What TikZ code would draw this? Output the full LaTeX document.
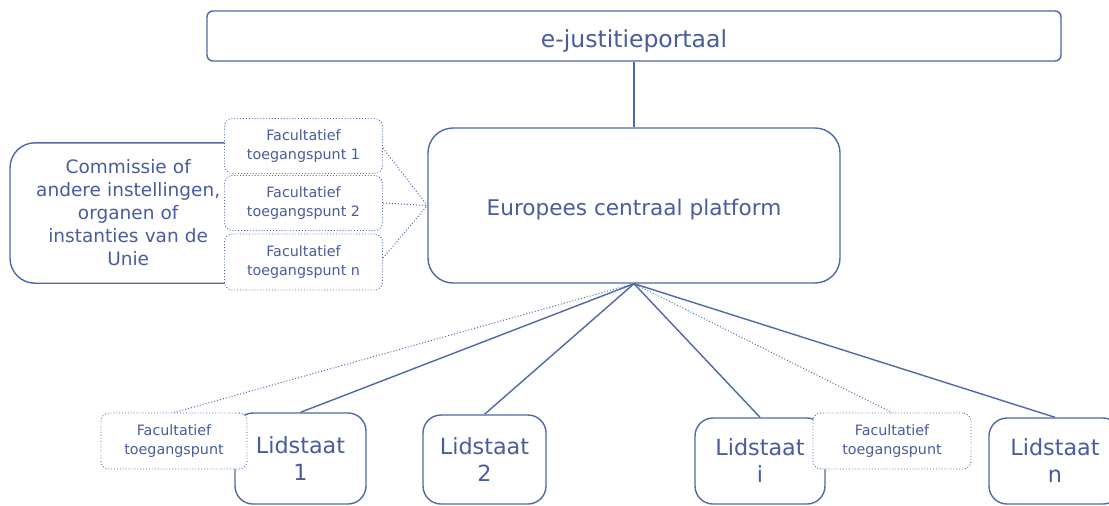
\documentclass[tikz,border=0pt]{standalone}
\usepackage{fontspec}
\setmainfont{DejaVu Sans}
\definecolor{lc}{RGB}{79,104,168}
\definecolor{tc}{RGB}{72,92,158}
\begin{document}
\begin{tikzpicture}[x=1pt,y=-1pt,
  box/.style={draw=lc,line width=1.4pt,fill=white,text=tc,align=center,inner sep=0pt},
  optbox/.style={draw=lc,line width=0.9pt,dotted,fill=white,text=tc,align=center,inner sep=0pt,rounded corners=8pt,
     font=\fontsize{14.3}{19}\selectfont},
  link/.style={draw=lc,line width=1.4pt},
  optlink/.style={draw=lc,line width=1pt,dotted},
  lid/.style={box,rounded corners=18pt,minimum width=#1,font=\fontsize{22.3}{27}\selectfont}
]
\useasboundingbox (0,0) rectangle (1109,506);
\clip (0,0) rectangle (1109,506);

% top portal
\node[box,rounded corners=6pt,minimum width=854pt,minimum height=50pt,font=\fontsize{23.5}{25}\selectfont,
  text height=22.4pt,text depth=0pt]
  (portal) at (634,36) {e-justitieportaal};
% central platform
\node[box,rounded corners=25pt,minimum width=412pt,minimum height=155pt,font=\fontsize{21.6}{25}\selectfont,
  text height=19pt,text depth=0pt]
  (ecp) at (634,205.5) {Europees centraal platform};
\draw[link] (portal.south) -- (ecp.north);
\coordinate (hub) at (ecp.south);

% Commission box (right side hidden behind the access points)
\node[text=tc,align=center,inner sep=0pt,minimum width=236pt,minimum height=140pt,
  font=\fontsize{18.5}{23}\selectfont,anchor=west,text width=230pt]
  (com) at (10,213) {Commissie of\\andere instellingen,\\organen of\\instanties van de\\Unie};
\draw[draw=lc,line width=1.4pt,rounded corners=25pt]
  (com.north east) -- (com.north west) -- (com.south west) -- (com.south east);
\node[optbox,minimum width=158pt,minimum height=55pt] (f1) at (303.5,146) {Facultatief\\toegangspunt 1};
\node[optbox,minimum width=158pt,minimum height=55pt] (f2) at (303.5,203) {Facultatief\\toegangspunt 2};
\node[optbox,minimum width=158pt,minimum height=56pt] (f3) at (303.5,262) {Facultatief\\toegangspunt n};
\draw[optlink] (f1.east) ++(0,2) -- (ecp.west);
\draw[optlink] (f2.east) -- (ecp.west);
\draw[optlink] (f3.east) ++(0,-4) -- (ecp.west);

% member states
\node[lid=131pt,minimum height=91pt] (l1) at (300.5,458.5) {Lidstaat\\1};
\node[lid=123pt,minimum height=89pt] (l2) at (484.5,459.5) {Lidstaat\\2};
\node[lid=130pt,minimum height=86pt] (li) at (760,461) {Lidstaat\\i};
\node[lid=132pt,minimum height=86pt] (ln) at (1055,461) {Lidstaat\\n};
\node[optbox,minimum width=146pt,minimum height=56pt] (fl) at (174,441) {Facultatief\\toegangspunt};
\node[optbox,minimum width=158pt,minimum height=56pt] (fr) at (892,441) {Facultatief\\toegangspunt};

\draw[optlink] (hub) -- (fl.north);
\draw[link] (hub) -- (l1.north);
\draw[link] (hub) -- (l2.north);
\draw[link] (hub) -- (li.north);
\draw[optlink] (hub) -- (fr.north);
\draw[link] (hub) -- (ln.north);
\end{tikzpicture}
\end{document}
